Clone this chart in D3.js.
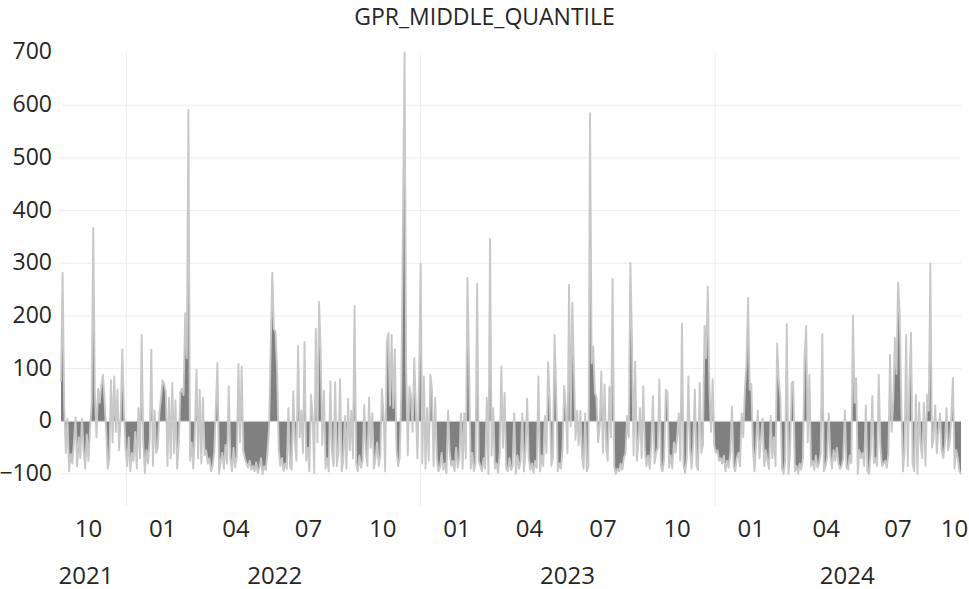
<!DOCTYPE html>
<html>
<head>
<meta charset="utf-8">
<script src="https://cdn.jsdelivr.net/npm/d3@7"></script>
<style>
  html, body { margin: 0; padding: 0; background: #fff; }
  svg { display: block; font-family: 'Open Sans', sans-serif; }
</style>
</head>
<body>
<svg id="gpr-chart"></svg>
<script>
const chartTitle = 'GPR_MIDDLE_QUANTILE';

// one value every 2 days, starting 2021-10-12
const startDate = '2021-10-12';
const stepDays = 2;

const yTicks = [-100, 0, 100, 200, 300, 400, 500, 600, 700];
const yearBreaks = ['2022-01-01', '2023-01-01', '2024-01-01'];

const quarterLabels = ['10', '01', '04', '07', '10', '01', '04', '07', '10', '01', '04', '07', '10'];
const quarterLabelDates = [
  '2021-11-15', '2022-02-15', '2022-05-17', '2022-08-15', '2022-11-15', '2023-02-15',
  '2023-05-16', '2023-08-15', '2023-11-15', '2024-02-15', '2024-05-18', '2024-08-15', '2024-10-24'
];
const yearLabels = ['2021', '2022', '2023', '2024'];
const yearLabelDates = ['2021-11-12', '2022-07-04', '2023-07-02', '2024-06-13'];

const gprValues = [
  75, 282, 30, -60, 5, -95, -62, -80, -40, 8,
  -85, -30, -70, 5, -55, -90, -25, -75, -15, 35,
  367, 55, -30, 62, 35, 70, 88, 40, -20, -90,
  -70, 78, -40, 85, -20, 60, -55, 10, 137, 25,
  -50, -85, -30, -95, -60, -75, -20, -90, 25, -70,
  164, -40, -98, -55, -80, -35, 136, -85, 20, -60,
  -50, 15, 45, 78, 70, 55, -85, 45, -70, 73,
  -60, 40, -90, -45, 55, 62, 50, 205, 120, 591,
  -75, -40, -90, -20, 98, -70, 60, -80, 45, -65,
  -55, -80, -70, -95, -85, -60, 25, 111, -100, -75,
  -60, -90, -45, -80, 66, -70, -95, -50, -88, -65,
  109, -40, 104, -55, -70, -80, -88, -75, -92, -85,
  -95, -78, -98, -88, -70, -100, -85, -92, -60, -15,
  140, 282, 175, 170, 95, -55, -85, -70, -95, -80,
  -90, 25, -85, -92, 57, -40, -75, 143, -30, 20,
  -60, 150, -75, -50, -95, 50, 10, -98, 176, -40,
  227, 132, -45, 58, -90, -70, -95, 76, -60, -85,
  74, -85, -60, 80, -95, -75, 10, -90, 43, -55,
  20, -70, 219, -80, -95, -65, -88, -75, 31, -60,
  -85, 45, -50, 15, -90, -70, -40, -85, -65, 61,
  10, -95, 150, 168, 30, 164, 25, 137, -55, -85,
  -70, 57, 380, 700, 100, -65, 65, 50, -20, 120,
  30, -70, 80, 299, -80, 85, -90, 25, -75, 88,
  60, -85, 45, -70, -95, -88, -60, -92, -80, -98,
  20, -60, -85, -75, -95, -50, -88, -70, 15, -90,
  15, -70, 272, 110, -90, -60, -95, -80, 261, -75,
  -85, -95, -70, -90, 45, -100, 346, -65, 25, -90,
  -80, -98, -60, 104, -50, 54, -88, -95, -70, -92,
  -85, 15, -100, -65, -90, -75, 15, -95, -60, 43,
  -70, -92, -80, -98, -75, -88, 85, -95, -65, -85,
  10, -60, 112, 40, -85, -70, 164, 60, -95, -80,
  -90, -50, 67, 25, -60, 259, -10, 225, 100, -35,
  20, -45, 20, -65, -90, 15, -95, -85, 585, 110,
  142, 55, 45, -40, -10, 95, -60, 70, -50, -75,
  65, -30, 270, -85, -100, -90, -95, -80, -92, -70,
  -60, 10, -30, 301, 155, -65, 113, -75, -40, 25,
  -70, 66, -55, -85, -65, -90, -45, 48, -80, -60,
  -50, 80, -85, -95, -70, 60, 55, -88, -65, -90,
  -40, -60, -30, 15, -75, 185, -85, -98, -70, 85,
  -55, -90, -40, 60, -85, -92, 73, -60, -45, 181,
  120, 256, 65, -20, 80, -45, -60, -55, -75, -70,
  -80, -65, -95, -75, -88, -60, 28, -85, -95, -70,
  -60, -85, 15, -30, 58, 110, 234, 60, 71, -50,
  -95, -40, 20, -70, -30, 5, -85, -55, -75, -90,
  10, -70, -30, -85, 148, 80, 45, -90, -100, -75,
  185, -100, -60, 73, 75, -95, -85, -100, -80, -92,
  -70, 121, 181, -40, 88, -85, -75, -92, -65, -88,
  -80, -60, 166, -95, -85, -70, 15, -65, -90, -55,
  -75, -50, -80, -90, -85, -70, 20, -88, -92, -65,
  -80, 201, 35, 82, -100, -55, -70, -60, -85, 30,
  -95, -100, -60, 48, -80, -70, -85, 88, -45, -85,
  -80, -75, -88, -60, 126, -20, 40, 158, 90, 263,
  204, 30, -95, -60, 164, -85, 75, 168, -80, -95,
  50, -100, 35, -45, -70, 35, -85, 50, 20, 299,
  -50, -30, 30, -60, -20, 15, -55, -70, -45, 25,
  -55, -40, 10, 82, -90, -55, -70, -95, -100
];

function drawGprChart(id) {
  const totalWidth = 969;
  const totalHeight = 589;
  const margin = { top: 52.5, right: 8, bottom: 115, left: 61 };
  const width = totalWidth - margin.left - margin.right;
  const height = totalHeight - margin.top - margin.bottom;
  const TEXT_COLOR = '#262626';
  const GRID_COLOR = '#ececec';

  const parseDate = d3.utcParse('%Y-%m-%d');
  const start = parseDate(startDate);
  const chartData = gprValues.map(function (v, i) {
    return { date: d3.utcDay.offset(start, i * stepDays), value: v };
  });

  const svg = d3.select(id)
    .attr('width', totalWidth)
    .attr('height', totalHeight)
    .attr('viewBox', `0 0 ${totalWidth} ${totalHeight}`);

  svg.append('rect')
    .attr('width', totalWidth)
    .attr('height', totalHeight)
    .attr('fill', '#fff');

  const xScale = d3.scaleUtc(d3.extent(chartData, d => d.date), [0, width]);
  const yScale = d3.scaleLinear([-100, 700], [height, 0]);

  const g = svg.append('g')
    .attr('transform', `translate(${margin.left}, ${margin.top})`);

  /* title */
  svg.append('text')
    .attr('x', totalWidth / 2)
    .attr('y', 25)
    .attr('text-anchor', 'middle')
    .attr('font-size', 23)
    .attr('fill', TEXT_COLOR)
    .text(chartTitle);

  /* horizontal grid lines */
  g.append('g')
    .selectAll('.grid-line')
    .data(yTicks.filter(d => d !== 0 && d !== 700))
    .enter()
    .append('line')
    .attr('class', 'grid-line')
    .attr('stroke', GRID_COLOR)
    .attr('stroke-width', 1)
    .attr('x1', 0)
    .attr('x2', width)
    .attr('y1', d => yScale(d))
    .attr('y2', d => yScale(d));

  /* year separators */
  g.append('g')
    .selectAll('.year-line')
    .data(yearBreaks.map(parseDate))
    .enter()
    .append('line')
    .attr('class', 'year-line')
    .attr('stroke', GRID_COLOR)
    .attr('stroke-width', 1)
    .attr('x1', d => xScale(d))
    .attr('x2', d => xScale(d))
    .attr('y1', 0)
    .attr('y2', height + 32);

  /* left axis labels */
  const leftAxis = d3.axisLeft(yScale)
    .tickValues(yTicks)
    .tickSize(0)
    .tickPadding(9);
  g.append('g')
    .call(leftAxis)
    .call(ax => ax.select('.domain').remove())
    .selectAll('text')
    .attr('font-family', "'Open Sans', sans-serif")
    .attr('font-size', 23)
    .attr('fill', TEXT_COLOR)
    .attr('dy', '0.28em');

  /* area + light outline */
  const area = d3.area()
    .x(d => xScale(d.date))
    .y0(yScale(0))
    .y1(d => yScale(d.value));

  g.append('path')
    .datum(chartData)
    .attr('fill', '#808080')
    .attr('stroke', 'none')
    .attr('d', area);

  g.append('path')
    .datum(chartData)
    .attr('fill', 'none')
    .attr('stroke', '#c8c8c8')
    .attr('stroke-width', 1.9)
    .attr('stroke-linejoin', 'round')
    .attr('d', d3.line().x(d => xScale(d.date)).y(d => yScale(d.value)));

  /* zero axis line */
  g.append('line')
    .attr('stroke', '#d0d0d0')
    .attr('stroke-width', 1)
    .attr('x1', 0)
    .attr('x2', width)
    .attr('y1', yScale(0))
    .attr('y2', yScale(0));

  /* bottom labels: quarters and years */
  g.append('g')
    .selectAll('.tick-q')
    .data(quarterLabels)
    .enter()
    .append('text')
    .attr('class', 'tick-q')
    .attr('x', (d, i) => xScale(parseDate(quarterLabelDates[i])))
    .attr('y', height + 53)
    .attr('text-anchor', 'middle')
    .attr('dominant-baseline', 'central')
    .attr('font-size', 24)
    .attr('fill', TEXT_COLOR)
    .text(d => d);

  g.append('g')
    .selectAll('.tick-year')
    .data(yearLabels)
    .enter()
    .append('text')
    .attr('class', 'tick-year')
    .attr('x', (d, i) => xScale(parseDate(yearLabelDates[i])))
    .attr('y', height + 100)
    .attr('text-anchor', 'middle')
    .attr('dominant-baseline', 'central')
    .attr('font-size', 24)
    .attr('fill', TEXT_COLOR)
    .text(d => d);
}

drawGprChart('#gpr-chart');
</script>
</body>
</html>
